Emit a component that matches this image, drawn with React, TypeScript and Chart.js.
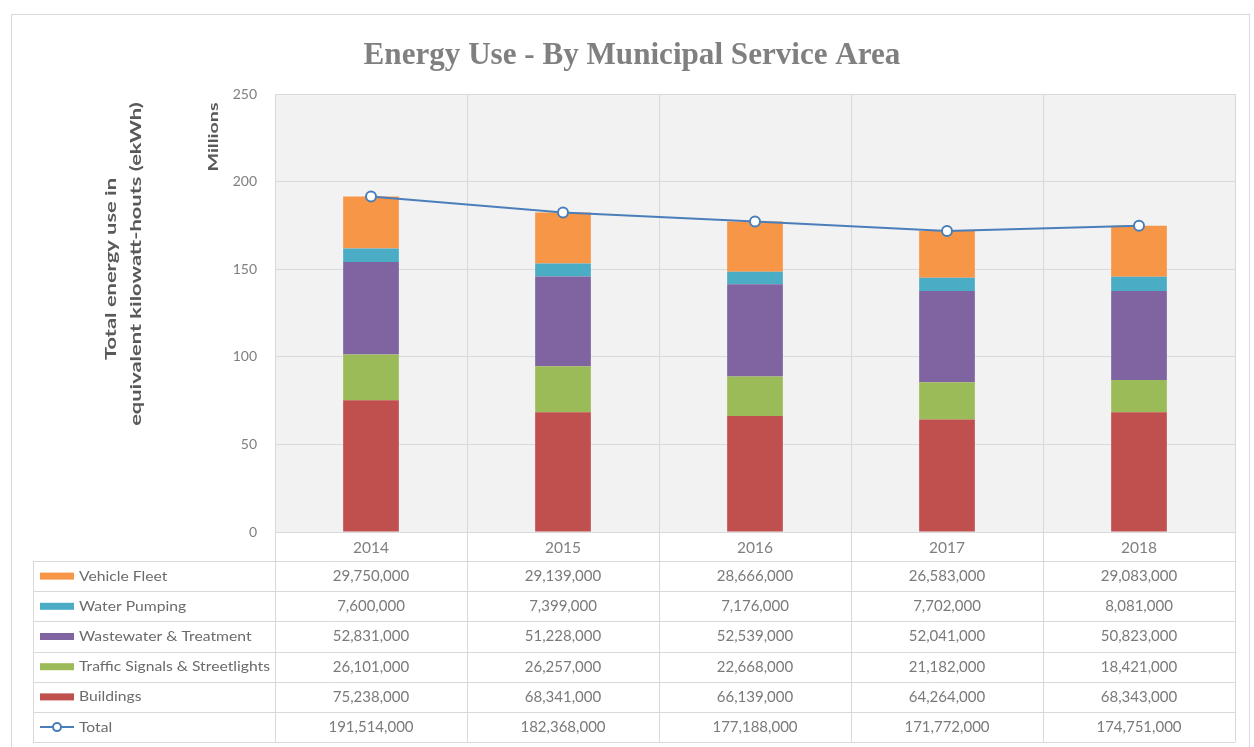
import React, { useEffect, useRef } from 'react';
import { Chart, registerables } from 'chart.js';

Chart.register(...registerables);

const categories = ['2014', '2015', '2016', '2017', '2018'];
const vehicleFleet = [29750000, 29139000, 28666000, 26583000, 29083000];
const waterPumping = [7600000, 7399000, 7176000, 7702000, 8081000];
const wastewater = [52831000, 51228000, 52539000, 52041000, 50823000];
const trafficSignals = [26101000, 26257000, 22668000, 21182000, 18421000];
const buildings = [75238000, 68341000, 66139000, 64264000, 68343000];
const totals = [191514000, 182368000, 177188000, 171772000, 174751000];

const seriesNames = ['Vehicle Fleet', 'Water Pumping', 'Wastewater & Treatment', 'Traffic Signals & Streetlights', 'Buildings', 'Total'];
const seriesColors = ['#f79646', '#4bacc6', '#8064a2', '#9bbb59', '#c0504d', '#4a7ebb'];
const tableRows = [vehicleFleet, waterPumping, wastewater, trafficSignals, buildings, totals];

const titleText = 'Energy Use - By Municipal Service Area';
const yTitleLines = ['Total energy use in', 'equivalent kilowatt-houts (ekWh)'];
const unitLabel = 'Millions';

const FONT = "Lato, 'Open Sans', sans-serif";
const GRID = '#d9d9d9';
const TEXT = '#7f7f7f';

const fmt = (v: number) => v.toLocaleString('en-US');

const bgPlugin = {
  id: 'bgPlugin',
  beforeDraw(chart: any) {
    const { ctx, chartArea: a } = chart;
    ctx.save();
    ctx.fillStyle = '#ffffff';
    ctx.fillRect(0, 0, chart.width, chart.height);
    ctx.strokeStyle = '#d9d9d9';
    ctx.lineWidth = 1;
    ctx.strokeRect(11.5, 14.5, 1238, 760);
    ctx.fillStyle = '#f2f2f2';
    ctx.fillRect(a.left, a.top, a.right - a.left, a.bottom - a.top);
    ctx.restore();
  },
};

function rotatedText(ctx: any, text: string, x: number, y: number, font: string, sx: number) {
  ctx.save();
  ctx.font = font;
  ctx.translate(x, y);
  ctx.rotate(-Math.PI / 2);
  ctx.scale(sx, 1);
  ctx.textAlign = 'center';
  ctx.textBaseline = 'middle';
  ctx.fillText(text, 0, 0);
  ctx.restore();
}

const tablePlugin = {
  id: 'tablePlugin',
  afterDraw(chart: any) {
    const { ctx, chartArea: a } = chart;
    const n = categories.length;
    const colW = (a.right - a.left) / n;
    const tableTop = a.bottom + 29;
    const rowH = 30.2;
    const tableBottom = tableTop + rowH * tableRows.length;
    const legendLeft = 33;
    ctx.save();

    // title
    ctx.fillStyle = '#808080';
    ctx.textAlign = 'center';
    ctx.textBaseline = 'alphabetic';
    ctx.font = "bold 26px 'Liberation Serif', serif";
    const w0 = ctx.measureText(titleText).width;
    const tSize = (26 * 537) / w0;
    ctx.font = `bold ${tSize.toFixed(2)}px 'Liberation Serif', serif`;
    ctx.fillText(titleText, 632, 64);

    // y axis titles (text is stretched along its direction in the reference)
    ctx.fillStyle = '#595959';
    const yFont = `bold 15px ${FONT}`;
    ctx.font = yFont;
    const l1 = ctx.measureText(yTitleLines[0]).width;
    const sy = 182 / l1;
    rotatedText(ctx, yTitleLines[0], 111, 269, yFont, sy);
    rotatedText(ctx, yTitleLines[1], 136, 264, yFont, sy);
    const mFont = `bold 13px ${FONT}`;
    ctx.font = mFont;
    const lm = ctx.measureText(unitLabel).width;
    rotatedText(ctx, unitLabel, 214, 137, mFont, 69 / lm);

    // table lines
    ctx.strokeStyle = GRID;
    ctx.lineWidth = 1;
    ctx.beginPath();
    for (let r = 0; r <= tableRows.length; r++) {
      const y = Math.round(tableTop + r * rowH) + 0.5;
      ctx.moveTo(legendLeft, y);
      ctx.lineTo(a.right, y);
    }
    ctx.moveTo(legendLeft + 0.5, tableTop);
    ctx.lineTo(legendLeft + 0.5, tableBottom);
    for (let c = 0; c <= n; c++) {
      const x = Math.round(a.left + c * colW) + 0.5;
      ctx.moveTo(x, a.bottom);
      ctx.lineTo(x, tableBottom);
    }
    ctx.stroke();

    // legend label scale
    const lFont = `14px ${FONT}`;
    ctx.font = lFont;
    const longest = ctx.measureText(seriesNames[3]).width;
    const lsx = 191 / longest;

    // rows
    for (let r = 0; r < tableRows.length; r++) {
      const cy = tableTop + r * rowH + rowH / 2;
      const color = seriesColors[r];
      if (r < tableRows.length - 1) {
        ctx.fillStyle = color;
        ctx.fillRect(40, cy - 3.5, 34, 7);
      } else {
        ctx.strokeStyle = color;
        ctx.lineWidth = 2;
        ctx.beginPath();
        ctx.moveTo(40, cy);
        ctx.lineTo(74, cy);
        ctx.stroke();
        ctx.beginPath();
        ctx.arc(57, cy, 4, 0, Math.PI * 2);
        ctx.fillStyle = '#ffffff';
        ctx.fill();
        ctx.stroke();
      }
      ctx.fillStyle = '#6b6b6b';
      ctx.textAlign = 'left';
      ctx.textBaseline = 'middle';
      ctx.save();
      ctx.font = lFont;
      ctx.translate(79, cy);
      ctx.scale(lsx, 1);
      ctx.fillText(seriesNames[r], 0, 0);
      ctx.restore();
      ctx.textAlign = 'center';
      ctx.font = `15px ${FONT}`;
      ctx.fillStyle = '#7a7a7a';
      const vals = tableRows[r];
      for (let c = 0; c < n; c++) {
        ctx.fillText(fmt(vals[c]), a.left + (c + 0.5) * colW, cy);
      }
    }
    ctx.restore();
  },
};

export default function App() {
  const ref = useRef<HTMLCanvasElement>(null);
  useEffect(() => {
    const canvas = ref.current!;
    const barDs = [
      { label: seriesNames[4], data: buildings, backgroundColor: seriesColors[4] },
      { label: seriesNames[3], data: trafficSignals, backgroundColor: seriesColors[3] },
      { label: seriesNames[2], data: wastewater, backgroundColor: seriesColors[2] },
      { label: seriesNames[1], data: waterPumping, backgroundColor: seriesColors[1] },
      { label: seriesNames[0], data: vehicleFleet, backgroundColor: seriesColors[0] },
    ].map((d) => ({
      ...d,
      type: 'bar' as const,
      stack: 's',
      order: 1,
      categoryPercentage: 1,
      barPercentage: 0.29,
    }));
    const chart = new Chart(canvas, {
      type: 'bar',
      data: {
        labels: categories,
        datasets: [
          ...barDs,
          {
            type: 'line',
            label: seriesNames[5],
            data: totals,
            stack: 't',
            order: 0,
            borderColor: seriesColors[5],
            borderWidth: 2,
            pointRadius: 5,
            pointBackgroundColor: '#ffffff',
            pointBorderColor: seriesColors[5],
            pointBorderWidth: 2,
            tension: 0,
          } as any,
        ],
      },
      options: {
        responsive: true,
        maintainAspectRatio: false,
        animation: false,
        layout: { padding: { left: 225, right: 19, top: 94, bottom: 186 } },
        plugins: {
          legend: { display: false },
          tooltip: { enabled: false },
          title: { display: false },
        },
        scales: {
          x: {
            stacked: true,
            offset: true,
            grid: { color: GRID, drawTicks: false, offset: true },
            border: { display: false },
            ticks: { color: TEXT, font: { family: FONT, size: 15.5 }, padding: 7 },
            afterFit: (s: any) => {
              s.height = 29;
            },
          },
          y: {
            stacked: true,
            min: 0,
            max: 250000000,
            grid: { color: GRID, drawTicks: false },
            border: { display: false },
            ticks: {
              stepSize: 50000000,
              color: TEXT,
              font: { family: FONT, size: 14 },
              padding: 18,
              callback: (v: any) => String(Number(v) / 1000000),
            },
            afterFit: (s: any) => {
              s.width = 50;
            },
          },
        },
      },
      plugins: [bgPlugin, tablePlugin],
    });
    return () => chart.destroy();
  }, []);
  return (
    <div style={{ position: 'absolute', left: 0, top: 0, width: 1254, height: 747, background: '#fff' }}>
      <canvas ref={ref} />
    </div>
  );
}
